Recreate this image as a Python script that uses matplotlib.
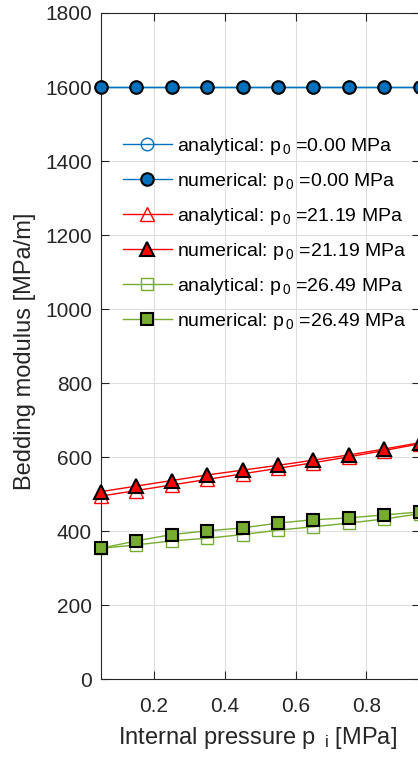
import numpy as np
import matplotlib
matplotlib.use('Agg')
import matplotlib.pyplot as plt

plt.rcParams['font.family'] = ['Liberation Sans', 'DejaVu Sans']
plt.rcParams['mathtext.fontset'] = 'custom'
plt.rcParams['mathtext.rm'] = 'Liberation Sans'
plt.rcParams['mathtext.it'] = 'Liberation Sans'

# internal pressure p_i [MPa]
p_i = [0.05, 0.15, 0.25, 0.35, 0.45, 0.55, 0.65, 0.75, 0.85, 0.95]

# bedding modulus [MPa/m]
k_ana_0 = [1600, 1600, 1600, 1600, 1600, 1600, 1600, 1600, 1600, 1600]
k_num_0 = [1600, 1600, 1600, 1600, 1600, 1600, 1600, 1600, 1600, 1600]
k_ana_21 = [495, 510, 525, 540, 555, 570, 585, 601, 618, 636]
k_num_21 = [507, 522, 537, 552, 565, 578, 592, 606, 622, 639]
k_ana_26 = [354, 363, 374, 381, 391, 403, 412, 422, 433, 447]
k_num_26 = [354, 374, 391, 401, 409, 422, 431, 436, 444, 452]

p0_values = [0.00, 21.19, 26.49]

blue = '#0072BD'
red = '#FF0000'
green = '#77AC30'
dark = '#262626'

W, H = 418, 760
fig = plt.figure(figsize=(W / 100, H / 100), dpi=100)
ax = fig.add_axes([101 / W, 1 - 679.3 / H, 318.5 / W, 666.3 / H])

series = [
    (k_ana_0, k_num_0, blue, 'o', 9),
    (k_ana_21, k_num_21, red, '^', 9.5),
    (k_ana_26, k_num_26, green, 's', 8),
]

for (ana, num, c, mk, ms), p0 in zip(series, p0_values):
    ax.plot(p_i, ana, color=c, lw=1, marker=mk, ms=ms, mfc='none', mec=c, mew=1,
            label='analytical: p$_{\\,0}$ =%.2f MPa' % p0, clip_on=False, zorder=3)
    ax.plot(p_i, num, color=c, lw=1, marker=mk, ms=ms, mfc=c, mec='black', mew=1.5,
            label='numerical: p$_{\\,0}$ =%.2f MPa' % p0, clip_on=False, zorder=4)

ax.set_xlim(0.05, 0.95)
ax.set_ylim(0, 1800)
ax.set_xticks([0.2, 0.4, 0.6, 0.8])
ax.set_yticks(np.arange(0, 1801, 200))
ax.grid(True, color='#dedede', lw=0.8)
ax.set_axisbelow(True)
ax.tick_params(direction='in', length=5.5, width=0.8, colors=dark, labelsize=15,
               top=True, right=True, pad=6.5)
ax.tick_params(axis='x', pad=12.5)
for s in ax.spines.values():
    s.set_color(dark)
    s.set_linewidth(0.8)

ax.set_xlabel('Internal pressure p $_{\\,\\mathrm{i}}$ [MPa]', fontsize=17, color=dark)
ax.xaxis.set_label_coords(0.492, -0.069)
ax.xaxis.label.set_va('top')
ax.set_ylabel('Bedding modulus [MPa/m]', fontsize=17, color=dark)
ax.yaxis.set_label_coords(-0.205, 0.4927)

ax.legend(loc='upper left', bbox_to_anchor=(123 / W, 1 - 136 / H), bbox_transform=fig.transFigure,
          frameon=False, fontsize=14, borderpad=0, borderaxespad=0,
          handlelength=2.5, handletextpad=0.26, labelspacing=0.72)

fig.savefig('out.png', dpi=100)
